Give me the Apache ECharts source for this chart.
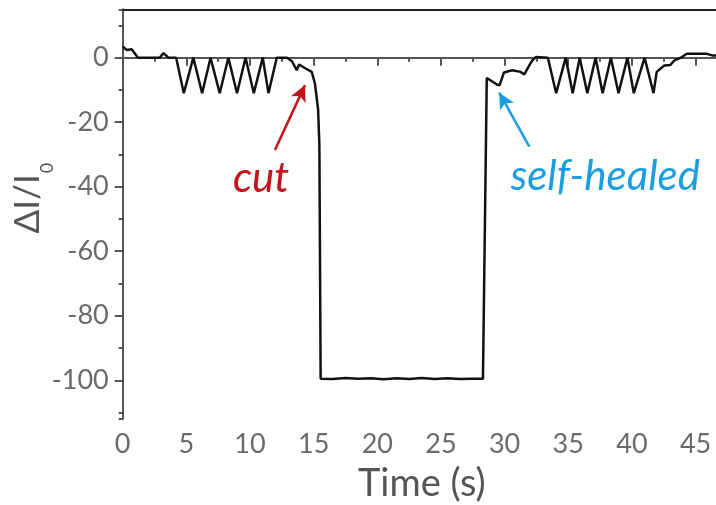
<!DOCTYPE html>
<html>
<head>
<meta charset="utf-8">
<script src="https://cdn.jsdelivr.net/npm/echarts@6/dist/echarts.min.js"></script>
<style>
  html, body { margin: 0; padding: 0; background: #fff; }
  #chart { width: 716px; height: 505px; }
</style>
</head>
<body>
<div id="chart"></div>
<script>
// ---- data ----
const timeS = [0, 0.3, 0.7, 1.2, 2.9, 3.2, 3.6, 4.2,
  4.8, 5.55, 6.24, 6.9, 7.62, 8.3, 8.98, 9.65, 10.3, 11.0, 11.45,
  12.1, 12.9, 13.3, 13.67, 13.86, 14.3, 14.85, 15.1, 15.35, 15.45, 15.55,
  16.5, 17.5, 18.5, 19.5, 20.5, 21.5, 22.5, 23.5, 24.5, 25.5, 26.5, 27.5,
  28.3, 28.6,
  29.4, 29.6, 29.95, 30.6, 31.25, 31.55, 31.85, 32.15, 32.45, 33.4,
  34.05, 34.8, 35.35, 35.9, 36.5, 37.15, 37.7, 38.35, 38.95, 39.65, 40.15, 41.0, 41.7,
  41.95, 42.25, 42.55, 43.0, 43.35, 43.85, 44.3, 45.9, 46.3, 47];
const deltaI = [3.5, 2.4, 2.6, 0, 0, 1.4, 0, 0,
  -11, 0, -11, 0, -11, 0, -11, 0, -11, 0, -11,
  0, 0, -1.1, -3.9, -2.1, -3.2, -4.4, -8, -16, -27, -99.5,
  -99.6, -99.3, -99.5, -99.4, -99.7, -99.4, -99.6, -99.3, -99.6, -99.4, -99.6, -99.5,
  -99.5, -6.3,
  -8.3, -8.6, -4.6, -3.9, -4.4, -5.2, -3.0, -1.0, 0.2, 0,
  -11, 0, -11, 0, -11, 0, -11, 0, -11, 0, -11, 0, -11,
  -4.4, -3.4, -2.4, -2.3, -0.8, 0, 1.2, 1.2, 0.7, 0.7];

const annotationTexts = ['cut', 'self-healed'];
const annotationColors = ['#c1141b', '#1c9de2'];
const annotationTextAt = [[10.87, -37.3], [37.9, -36.7]];
const arrowFrom = [[11.96, -28.6], [31.94, -27.6]];
const arrowTo = [[14.32, -8.5], [29.58, -10.85]];

const xRange = [0, 47];
const yRange = [-112, 15];
const xTickStep = 5;

// ---- chart ----
const FONT = 'Lato';
const WEIGHT = 400;
const AXIS_GRAY = '#555';
const LABEL_GRAY = '#6a6a6a';

const lineData = timeS.map((t, i) => [t, deltaI[i]]);

const chart = echarts.init(document.getElementById('chart'), null, { renderer: 'canvas' });

const option = {
  animation: false,
  backgroundColor: '#fff',
  grid: { left: 122.7, top: 9.3, right: -5, bottom: 86, containLabel: false, outerBoundsMode: 'none' },
  xAxis: [
    {
      type: 'value', position: 'bottom', min: xRange[0], max: xRange[1], interval: xTickStep,
      axisLine: { show: true, lineStyle: { color: AXIS_GRAY, width: 2 } },
      axisTick: { show: true, length: 8, lineStyle: { color: AXIS_GRAY, width: 2 } },
      minorTick: { show: true, splitNumber: 2, length: 4, lineStyle: { color: AXIS_GRAY, width: 2 } },
      axisLabel: { fontFamily: FONT, fontWeight: WEIGHT, fontSize: 27, color: LABEL_GRAY, margin: 12, showMaxLabel: false },
      splitLine: { show: false },
      name: 'Time (s)', nameLocation: 'middle', nameGap: 46, nameMoveOverlap: false,
      nameTextStyle: { fontFamily: FONT, fontWeight: WEIGHT, fontSize: 38, color: AXIS_GRAY }
    },
    {
      type: 'value', position: 'top', min: xRange[0], max: xRange[1],
      axisLine: { show: true, onZero: false, lineStyle: { color: '#222', width: 2 } },
      axisTick: { show: false }, axisLabel: { show: false }, splitLine: { show: false }
    }
  ],
  yAxis: [
    {
      type: 'value', position: 'left', min: yRange[0], max: yRange[1], splitNumber: 6,
      axisLine: { show: true, onZero: false, lineStyle: { color: AXIS_GRAY, width: 2 } },
      axisTick: { show: true, length: 8, lineStyle: { color: AXIS_GRAY, width: 2 } },
      axisLabel: { fontFamily: FONT, fontWeight: WEIGHT, fontSize: 27, color: LABEL_GRAY, margin: 14, showMinLabel: false, showMaxLabel: false },
      splitLine: { show: false },
      name: '{a|ΔI/I}{b|0}', nameLocation: 'middle', nameGap: 72, nameRotate: 90, nameMoveOverlap: false,
      nameTextStyle: {
        color: AXIS_GRAY, padding: [0, 0, 0, 32],
        rich: {
          a: { fontFamily: FONT, fontWeight: WEIGHT, fontSize: 35, color: AXIS_GRAY, lineHeight: 40, verticalAlign: 'top' },
          b: { fontFamily: FONT, fontWeight: WEIGHT, fontSize: 18, color: AXIS_GRAY, lineHeight: 18, padding: [27, 0, 0, 1], verticalAlign: 'top' }
        }
      }
    },
    {
      type: 'value', position: 'left', min: yRange[0], max: yRange[1], splitNumber: 12,
      axisLine: { show: false, onZero: false },
      axisTick: { show: true, length: 4, lineStyle: { color: AXIS_GRAY, width: 2 } },
      axisLabel: { show: false }, splitLine: { show: false }
    }
  ],
  series: [
    {
      type: 'line', xAxisIndex: 0, yAxisIndex: 0, data: lineData,
      showSymbol: false, symbol: 'none', clip: true,
      lineStyle: { color: '#111', width: 2.5 },
      markLine: {
        silent: true, symbol: ['none', 'arrow'], symbolSize: [12, 16], label: { show: false },
        data: arrowFrom.map((p, i) => [
          { coord: p, lineStyle: { color: annotationColors[i], width: 2.5, type: 'solid' } },
          { coord: arrowTo[i] }
        ])
      },
      markPoint: {
        silent: true, symbol: 'circle', symbolSize: 1,
        itemStyle: { color: 'rgba(0,0,0,0)' },
        data: annotationTexts.map((t, i) => ({
          coord: annotationTextAt[i],
          label: {
            show: true, formatter: t, position: 'inside',
            fontFamily: FONT, fontWeight: WEIGHT, fontStyle: 'italic', fontSize: 42, color: annotationColors[i]
          }
        }))
      }
    }
  ]
};

chart.setOption(option);
</script>
</body>
</html>
